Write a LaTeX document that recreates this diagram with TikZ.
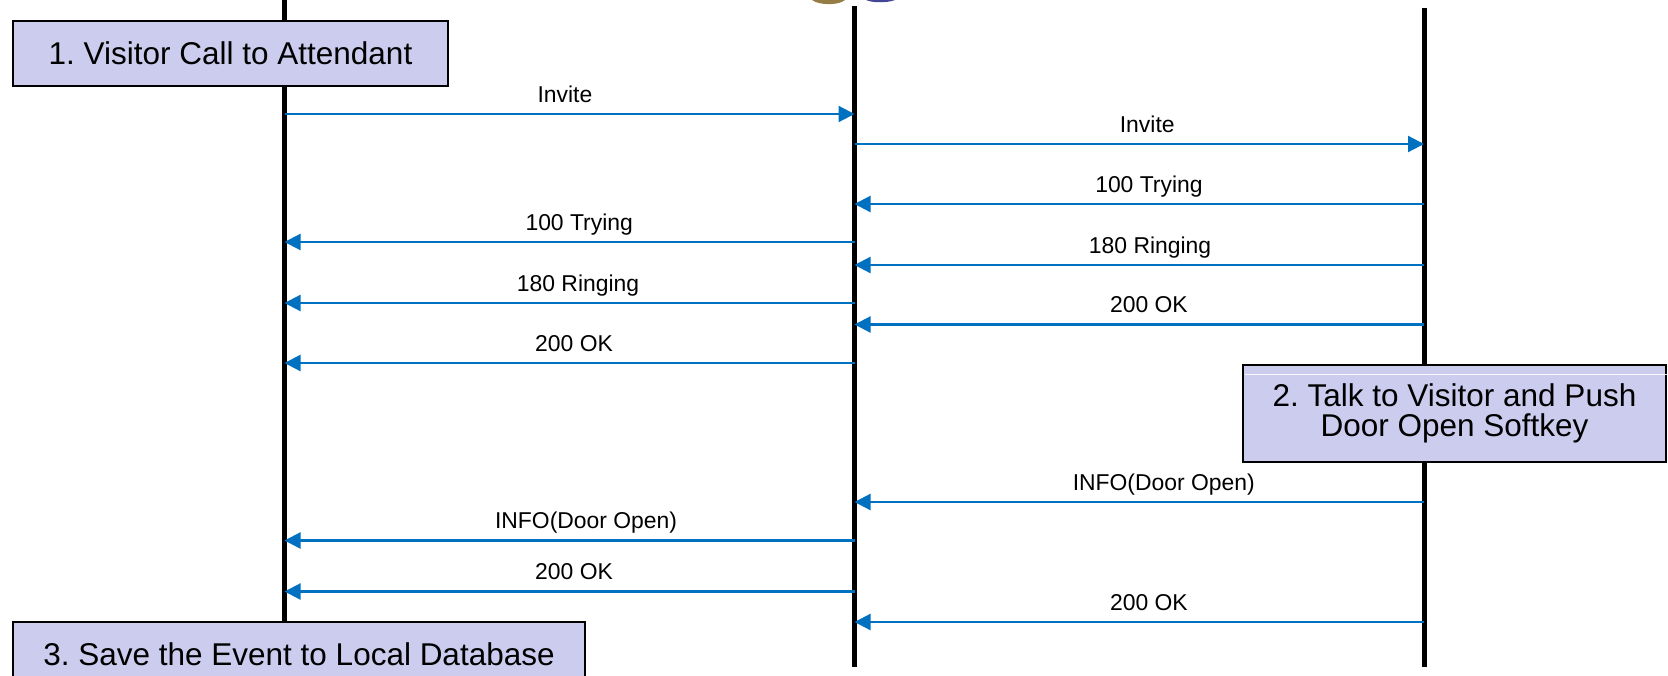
\documentclass[tikz,border=0pt]{standalone}
\usepackage{fontspec}
\setmainfont{Liberation Sans}
\usetikzlibrary{arrows.meta}
\definecolor{boxfill}{RGB}{204,204,238}
\definecolor{msgblue}{RGB}{0,112,192}
\definecolor{icontan}{RGB}{150,125,70}
\definecolor{iconblue}{RGB}{70,70,150}
\frenchspacing
\begin{document}
\begin{tikzpicture}[x=1pt,y=-1pt,
  life/.style={line width=5pt, black},
  msg/.style={draw=msgblue, line width=2.2pt, -{Triangle[length=16pt,width=16pt]}},
  lbl/.style={font=\fontsize{22.9}{26}\selectfont, inner sep=0pt, anchor=base, yshift=12pt},
  box/.style={draw=black, line width=2.5pt, fill=boxfill, font=\fontsize{31.5}{30.5}\selectfont, inner sep=0pt, align=center}]
\useasboundingbox (0,0) rectangle (1668,675);
\clip (0,0) rectangle (1668,675);
% clipped icon fragments at top
\fill[icontan] (812,0) .. controls (818,5) and (838,6) .. (845,0) -- cycle;
\fill[iconblue] (866,0) .. controls (872,3) and (888,3) .. (895,0) -- cycle;
% lifelines
\coordinate (Lt) at (284.5,0);   \coordinate (Lb) at (284.5,622);
\coordinate (Mt) at (854.5,6);   \coordinate (Mb) at (854.5,667);
\coordinate (Rt) at (1424,8);    \coordinate (Rb) at (1424,667);
\draw[life] (Lt) -- (Lb);
\draw[life] (Mt) -- (Mb);
\draw[life] (Rt) -- (Rb);
% message end points
\foreach \n/\y in {1/114,2/144,3/204,4/242,5/265,6/303,7/324.5,8/363,9/502,10/540.5,11/591.5,12/622}{
  \coordinate (L\n) at (284.5,\y);
  \coordinate (M\n) at (854.5,\y);
  \coordinate (R\n) at (1424,\y);
}
\draw[msg] (L1) -- (M1) node[lbl, pos=0.492] {Invite};
\draw[msg] (M2) -- (R2) node[lbl, pos=0.514] {Invite};
\draw[msg] (R3) -- (M3) node[lbl, pos=0.483] {100 Trying};
\draw[msg] (M4) -- (L4) node[lbl, pos=0.483] {100 Trying};
\draw[msg] (R5) -- (M5) node[lbl, pos=0.481] {180 Ringing};
\draw[msg] (M6) -- (L6) node[lbl, pos=0.485] {180 Ringing};
\draw[msg] (R7) -- (M7) node[lbl, pos=0.483] {200 OK};
\draw[msg] (M8) -- (L8) node[lbl, pos=0.492] {200 OK};
\draw[msg] (R9) -- (M9) node[lbl, pos=0.457] {INFO(Door Open)};
\draw[msg] (M10) -- (L10) node[lbl, pos=0.471] {INFO(Door Open)};
\draw[msg] (M11) -- (L11) node[lbl, pos=0.492] {200 OK};
\draw[msg] (R12) -- (M12) node[lbl, pos=0.483] {200 OK};
% step boxes
\node[box, minimum width=435pt, minimum height=65pt] (box1) at (230.5,53.5) {1. Visitor Call to Attendant};
\node[box, minimum width=423pt, minimum height=97pt] (box2) at (1454.5,413.5) {2. Talk to Visitor and Push\\Door Open Softkey};
\node[box, minimum width=572pt, minimum height=64pt] (box3) at (299,654) {3. Save the Event to Local Database};
% faint stray line across box 2
\coordinate (s1) at (1245,374); \coordinate (s2) at (1668,374);
\draw[white, line width=1pt, opacity=0.85] (s1) -- (s2);
\end{tikzpicture}
\end{document}
